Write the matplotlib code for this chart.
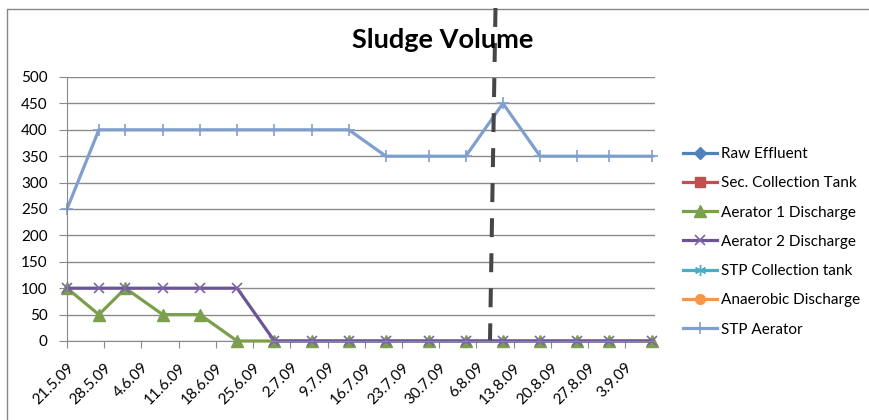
import numpy as np
import pandas as pd
import matplotlib
matplotlib.use('Agg')
import matplotlib.pyplot as plt
import matplotlib.dates as mdates
from matplotlib.lines import Line2D

plt.rcParams['font.family'] = ['Lato', 'DejaVu Sans']

# sample dates (d.m.yy) and values
dates = ['21.5.09', '27.5.09', '1.6.09', '8.6.09', '15.6.09', '22.6.09', '29.6.09',
         '6.7.09', '13.7.09', '20.7.09', '28.7.09', '4.8.09', '11.8.09', '18.8.09',
         '25.8.09', '31.8.09', '8.9.09']
raw_effluent = []
sec_collection = []
aerator1 = [100, 50, 100, 50, 50, 0, 0, 0, 0, 0, 0, 0, 0, 0, 0, 0, 0]
aerator2 = [100, 100, 100, 100, 100, 100, 0, 0, 0, 0, 0, 0, 0, 0, 0, 0, 0]
stp_collection = []
anaerobic = []
stp_aerator = [250, 400, 400, 400, 400, 400, 400, 400, 400, 350, 350, 350, 450, 350, 350, 350, 350]

tick_labels = ['21.5.09', '28.5.09', '4.6.09', '11.6.09', '18.6.09', '25.6.09', '2.7.09',
               '9.7.09', '16.7.09', '23.7.09', '30.7.09', '6.8.09', '13.8.09', '20.8.09',
               '27.8.09', '3.9.09']

x = mdates.date2num(pd.to_datetime(dates, format='%d.%m.%y'))
xt = mdates.date2num(pd.to_datetime(tick_labels, format='%d.%m.%y'))

fig = plt.figure(figsize=(8.7, 4.2), dpi=100)
ax = fig.add_axes([67/870, 1-341/420, 588/870, 264/420])

lw = 2.3
series = [
    ('Raw Effluent', raw_effluent, '#4F81BD', '#4F81BD', 'D', 6),
    ('Sec. Collection Tank', sec_collection, '#C0504D', '#C0504D', 's', 7),
    ('Aerator 1 Discharge', aerator1, '#7BA04C', '#7BA04C', '^', 8),
    ('Aerator 2 Discharge', aerator2, '#6B5594', '#7D65A8', 'x', 7),
    ('STP Collection tank', stp_collection, '#4BACC6', '#4BACC6', (6, 2, 0), 8),
    ('Anaerobic Discharge', anaerobic, '#F79646', '#F79646', 'o', 7),
    ('STP Aerator', stp_aerator, '#809FCF', '#809FCF', '+', 8),
]
for name, vals, col, mcol, mk, ms in series:
    xs = x[:len(vals)]
    ax.plot(xs, vals, color=col, lw=lw, marker=mk, markersize=ms,
            markerfacecolor=mcol, markeredgecolor=mcol,
            markeredgewidth=1.2 if mk in ('x', '+') else 1, label=name, clip_on=False)

ax.set_ylim(0, 500)
ax.set_yticks(np.arange(0, 501, 50))
ax.set_xlim(x[0], x[-1] + 0.6)
ax.set_xticks(xt)
ax.set_xticklabels(tick_labels, rotation=45, ha='right', rotation_mode='anchor')
ax.grid(axis='y', color='#8a8a8a', lw=1)
ax.set_axisbelow(True)
for s in ['top', 'right']:
    ax.spines[s].set_visible(False)
for s in ['left', 'bottom']:
    ax.spines[s].set_color('#8a8a8a')
ax.tick_params(axis='both', colors='#8a8a8a', labelcolor='black', labelsize=11, direction='out')
ax.tick_params(axis='y', length=6, pad=8)
ax.tick_params(axis='x', length=5, pad=9)

fig.text(443/870, 1-40/420, 'Sludge Volume', ha='center', va='center',
         fontsize=19.5, fontweight='bold')

fig.legend(loc='upper left', bbox_to_anchor=(683/870, 1-147/420), frameon=False,
           fontsize=11, handlelength=2.2, handletextpad=0.3, labelspacing=1.0,
           borderpad=0, borderaxespad=0)

# chart border (cropped)
fig.add_artist(Line2D([7/870, 7/870, 1], [0, 1-9/420, 1-9/420], color='#868686', lw=1))

# dashed marker line
fig.add_artist(Line2D([495.5/870, 490/870], [1-8/420, 1-340/420], color='#464646',
                      lw=2.9, linestyle=(0, (4.7, 4.0)), solid_capstyle='butt'))

fig.savefig('out.png', dpi=100)
